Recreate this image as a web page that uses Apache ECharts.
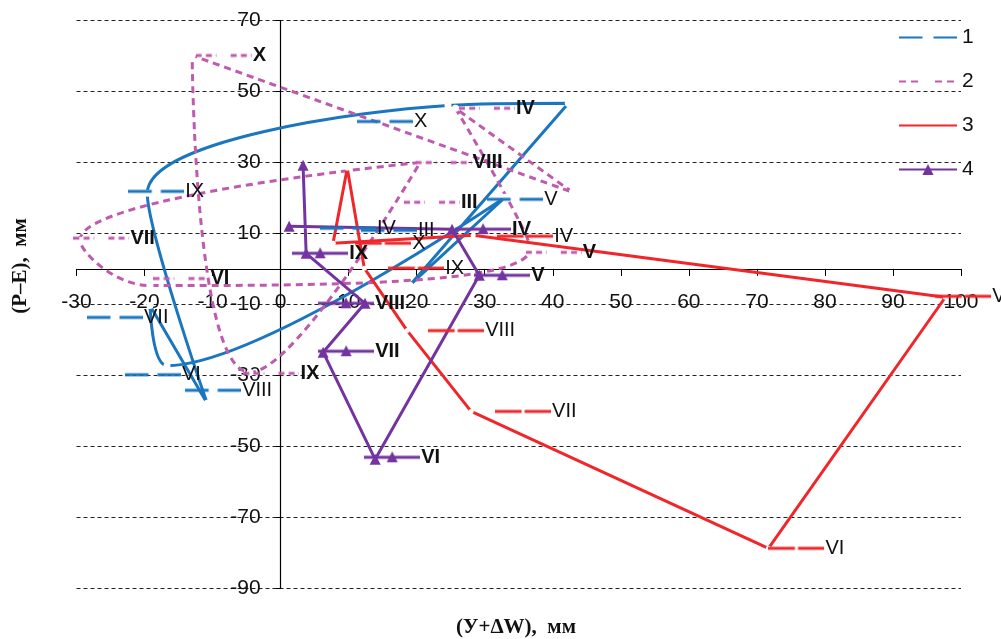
<!DOCTYPE html>
<html>
<head>
<meta charset="utf-8">
<script src="https://cdn.jsdelivr.net/npm/echarts@6/dist/echarts.min.js"></script>
<style>
html,body{margin:0;padding:0;background:#fff;}
#chart{width:1001px;height:639px;}
</style>
</head>
<body>
<div id="chart"></div>
<script>
// ---- data: (У+ΔW) on x, (P–E) on y, one point per month (loops close back on III) ----
const s1Month = ['III','IV','V','VI','VII','VIII','IX','X',''];
const s1X = [42.3, 19.0, 33.0, -16.7, -19.2, -10.8, -19.6, 24.6, 42.3];
const s1Y = [46.7, -4.6, 20.2, -27.3, -10.3, -37.9, 21.3, 46.1, 46.7];

const s2Month = ['III','IV','V','VI','VII','VIII','IX','X',''];
const s2X = [42.9, 25.7, 36.7, -19.2, -29.5, 20.5, -4.5, -13.0, 42.9];
const s2Y = [21.6, 45.3, 5.8, -4.7, 8.1, 30.0, -29.2, 60.2, 21.6];

const s3Month = ['III','IV','V','VI','VII','VIII','IX','X',''];
const s3X = [7.7, 28.3, 97.7, 71.7, 28.0, 18.6, 12.3, 9.8, 7.7];
const s3Y = [7.2, 9.5, -8.0, -78.8, -40.2, -17.4, 0.2, 28.4, 7.2];

const s4Month = ['III','IV','V','VI','VII','VIII','IX','X'];
const s4X = [1.25, 25.2, 29.2, 13.9, 6.25, 12.4, 3.75, 3.3];
const s4Y = [12.0, 11.2, -1.8, -53.7, -23.5, -9.7, 4.4, 29.2];

const seriesNames = ['1', '2', '3', '4'];
const xTicks = {min: -30, max: 100, step: 10};
const yTicks = {min: -90, max: 70, step: 20};

// ---- layout ----
const GRID = {left: 76.5, right: 40, top: 20.7, bottom: 51};
const PLOT_W = 1001 - GRID.left - GRID.right;
const PLOT_H = 639 - GRID.top - GRID.bottom;
// axes cross at zero: shift each axis from the plot edge to the zero line
const xAxisShift = -PLOT_H * (0 - yTicks.min) / (yTicks.max - yTicks.min);
const yAxisShift = -PLOT_W * (0 - xTicks.min) / (xTicks.max - xTicks.min);

// ---- label placement (pixel shifts of each month label) ----
const labelShift = {
  '1': {III: [-211, 127], IV: [-93.5, -57], V: [-21.5, 2], VI: [-45.5, 9], VII: [-66.5, 12],
        VIII: [-25.5, -13], IX: [-22.5, -2], X: [-94.5, 16]},
  '2': {III: [-172, 10], IV: [0, 0], V: [-8, 4], VI: [0, -7], VII: [-10, -2], VIII: [-8, 0], IX: [-10, 1], X: [0, 0]},
  '3': {IV: [21.5, 1], V: [-12.5, -1], VI: [-2.5, 0], VII: [21.5, 0], VIII: [18.5, 0], IX: [21.5, 0], X: [5.5, 75]},
  '4': {IV: [-2.5, 0], V: [-10.5, 0], VI: [-16.5, -2], VII: [-10.5, -1], VIII: [-52.5, 0], IX: [-19.5, 0]}
};

// ---- styles ----
const styles = {
  '1': {color: '#1a76bf', dash: 'solid', sym: 'circle', symSize: 7, symColor: '#fff', smooth: 0.3, bold: false, gap: 9},
  '2': {color: '#c05aae', dash: [7, 5], sym: 'circle', symSize: 7, symColor: '#fff', smooth: 0.45, bold: true, gap: 14},
  '3': {color: '#f0262a', dash: 'solid', sym: 'circle', symSize: 5, symColor: '#fff', smooth: false, bold: false, gap: 3},
  '4': {color: '#7434a0', dash: 'solid', sym: 'triangle', symSize: 11, symColor: '#7434a0', smooth: false, bold: true, gap: 0}
};

// small key sample drawn in front of each month label
function makeKey(st) {
  const c = document.createElement('canvas');
  const w = 56, h = 14;
  c.width = w; c.height = h;
  const g = c.getContext('2d');
  g.strokeStyle = st.color;
  g.lineWidth = 3;
  if (Array.isArray(st.dash)) g.setLineDash([st.dash[0] * 0.85, st.dash[1] * 0.85]);
  const mid = w / 2;
  g.beginPath();
  g.moveTo(0, h / 2); g.lineTo(mid - st.gap / 2, h / 2);
  g.moveTo(mid + st.gap / 2, h / 2); g.lineTo(w, h / 2);
  g.stroke();
  if (st.sym === 'triangle') {
    g.fillStyle = st.color;
    g.beginPath();
    g.moveTo(mid, 1); g.lineTo(mid + 5.5, h - 2); g.lineTo(mid - 5.5, h - 2);
    g.closePath(); g.fill();
  }
  return c;
}

function build(name, xs, ys, months) {
  const st = styles[name];
  const shifts = labelShift[name];
  const key = makeKey(st);
  const data = xs.map((x, i) => {
    const m = months[i];
    const item = {value: [x, ys[i]], name: m};
    if (m && shifts[m]) {
      item.label = {show: true, offset: shifts[m]};
    } else {
      item.label = {show: false};
    }
    return item;
  });
  return {
    name: name,
    type: 'line',
    data: data,
    smooth: st.smooth,
    symbol: st.sym,
    symbolSize: st.symSize,
    showAllSymbol: true,
    lineStyle: {color: st.color, width: 3, type: st.dash},
    itemStyle: {color: st.symColor, borderWidth: 0},
    label: {
      show: true,
      position: 'right',
      distance: 0,
      formatter: p => '{k|}{t|' + p.name + '}',
      rich: {
        k: {width: 56, height: 14, backgroundColor: {image: key}},
        t: {fontFamily: 'Liberation Sans, Arial, sans-serif', fontSize: 20,
            fontWeight: st.bold ? 'bold' : 'normal', color: '#111', padding: [0, 0, 0, 1]}
      }
    },
    emphasis: {disabled: true},
    z: 2
  };
}

const axisFont = {fontFamily: 'Liberation Sans, Arial, sans-serif', fontSize: 21, color: '#111'};
const nameFont = {fontFamily: 'Liberation Serif, Times New Roman, serif', fontSize: 21, fontWeight: 'bold', color: '#111'};

const chart = echarts.init(document.getElementById('chart'), null, {renderer: 'canvas'});
chart.setOption({
  animation: false,
  backgroundColor: '#fff',
  grid: {left: GRID.left, right: GRID.right, top: GRID.top, bottom: GRID.bottom,
         containLabel: false, outerBoundsMode: 'none'},
  legend: {
    orient: 'vertical', left: 893, top: 22,
    itemWidth: 58, itemHeight: 14, itemGap: 23,
    data: [{name: '1'}, {name: '2'}, {name: '3', itemStyle: {opacity: 0}}, {name: '4'}],
    textStyle: axisFont
  },
  title: {text: '(У+ΔW),  мм', left: 511, top: 612, textAlign: 'center', textStyle: nameFont},
  graphic: [{
    type: 'text', x: 21, y: 266, rotation: Math.PI / 2,
    style: {text: '(P–E),  мм', font: 'bold 21px "Liberation Serif", serif', fill: '#111',
            align: 'center', verticalAlign: 'middle'}
  }],
  xAxis: {
    type: 'value', min: xTicks.min, max: xTicks.max, interval: xTicks.step,
    position: 'bottom', offset: xAxisShift,
    axisLine: {onZero: false, lineStyle: {color: '#000', width: 1.2}},
    axisTick: {show: true, inside: false, length: 7, lineStyle: {color: '#000'}},
    axisLabel: Object.assign({margin: 23}, axisFont),
    splitLine: {show: false}
  },
  yAxis: {
    type: 'value', min: yTicks.min, max: yTicks.max, interval: yTicks.step,
    position: 'left', offset: yAxisShift,
    axisLine: {onZero: false, lineStyle: {color: '#000', width: 1.2}},
    axisTick: {show: true, length: 5, lineStyle: {color: '#000'}},
    axisLabel: Object.assign({margin: 20}, axisFont),
    splitLine: {show: true, lineStyle: {color: '#222', width: 1, type: [4, 3]}}
  },
  series: [
    build('1', s1X, s1Y, s1Month),
    build('2', s2X, s2Y, s2Month),
    build('3', s3X, s3Y, s3Month),
    build('4', s4X, s4Y, s4Month)
  ]
});
</script>
</body>
</html>
